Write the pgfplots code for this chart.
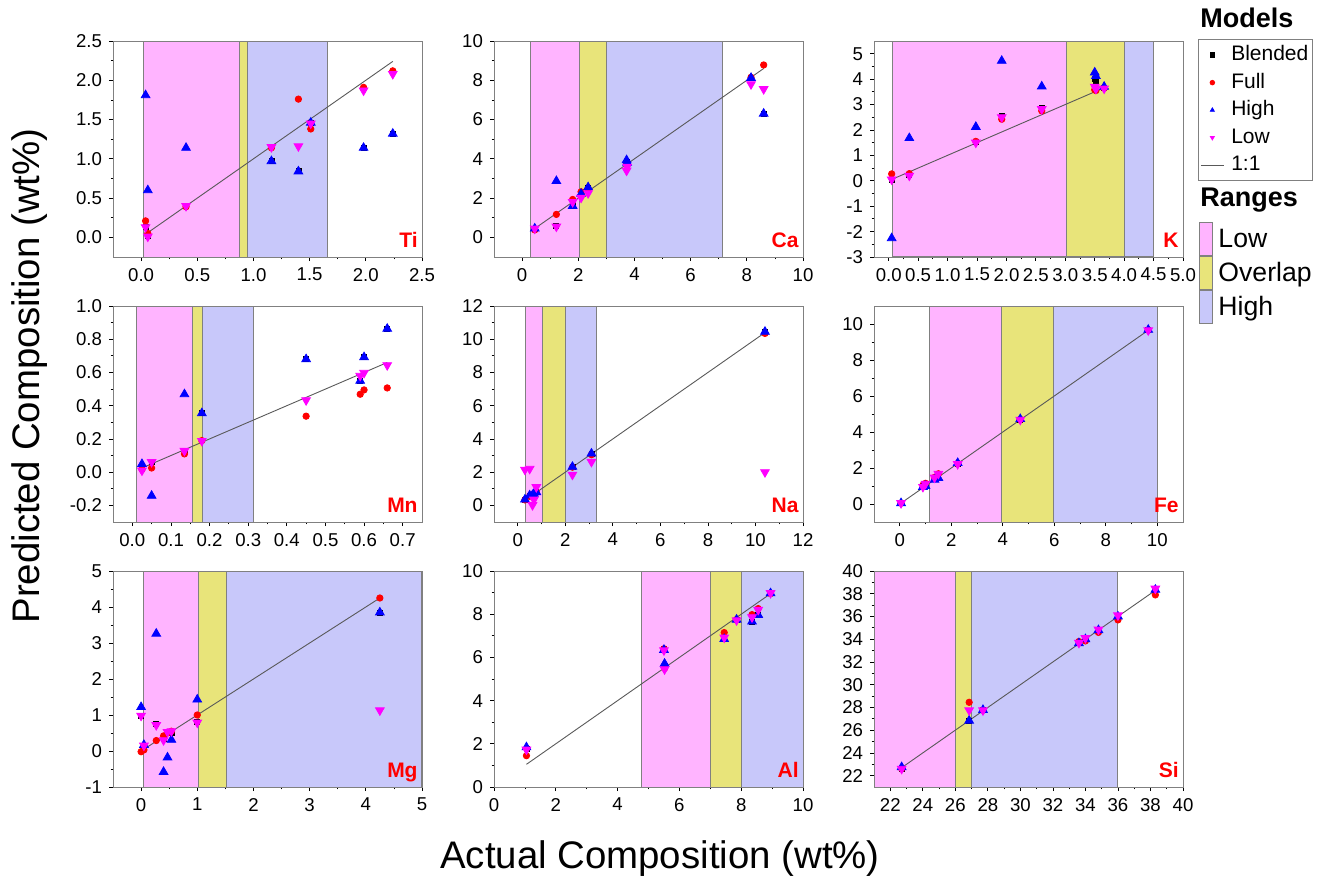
\documentclass[border=0pt]{standalone}
\usepackage{pgfplots}
\usepackage{pgfplotstable}
\pgfplotsset{compat=1.18}
\usepackage{fontspec}
\setmainfont{Liberation Sans}
\definecolor{lowc}{RGB}{255,180,255}
\definecolor{ovc}{RGB}{232,228,122}
\definecolor{highc}{RGB}{200,200,250}
\definecolor{magc}{RGB}{255,0,255}
\definecolor{bandgray}{RGB}{128,128,128}

\pgfplotstableread{
x b f h l
0.04 0.13 0.21 1.81 0.13
0.06 0.02 0.05 0.60 0.01
0.40 0.40 0.39 1.14 0.40
1.16 0.97 1.14 0.97 1.15
1.40 0.84 1.76 0.84 1.16
1.51 1.46 1.38 1.46 1.45
1.98 1.14 1.91 1.14 1.87
2.24 1.32 2.12 1.32 2.08
}\Ti
\pgfplotstableread{
x b f h l
0.45 0.45 0.38 0.45 0.45
1.22 0.58 1.17 2.87 0.55
1.80 1.70 1.93 1.60 1.80
2.10 2.20 2.32 2.22 2.02
2.35 2.50 2.45 2.55 2.25
3.72 3.85 3.80 3.93 3.40
3.74 3.75 3.70 3.80 3.60
8.15 8.10 8.15 8.12 7.80
8.60 6.30 8.78 6.30 7.55
}\Ca
\pgfplotstableread{
x b f h l
0.05 0.05 0.27 -2.26 0.05
0.35 0.22 0.28 1.68 0.20
1.48 1.52 1.55 2.12 1.50
1.92 2.55 2.42 4.72 2.50
2.60 2.86 2.75 3.71 2.82
3.50 4.00 3.58 4.26 3.70
3.52 3.90 3.55 4.12 3.62
3.66 3.65 3.65 3.70 3.63
}\K
\pgfplotstableread{
x b f h l
0.025 0.020 0.017 0.049 0.010
0.050 0.060 0.025 -0.142 0.061
0.135 0.130 0.110 0.469 0.128
0.180 0.355 0.190 0.355 0.188
0.450 0.680 0.337 0.680 0.433
0.590 0.550 0.469 0.550 0.580
0.600 0.692 0.495 0.692 0.598
0.660 0.863 0.507 0.863 0.644
}\Mn
\pgfplotstableread{
x b f h l
0.30 0.35 0.33 0.35 2.15
0.50 0.55 0.55 0.60 2.20
0.62 0.60 0.60 0.62 0.02
0.68 0.65 0.65 0.70 0.35
0.78 0.80 0.80 0.80 1.10
2.30 2.30 2.30 2.32 1.85
3.10 3.10 3.05 3.12 2.62
10.40 10.45 10.35 10.45 2.00
}\Na
\pgfplotstableread{
x b f h l
0.05 0.05 0.05 0.05 0.05
0.90 1.00 1.05 0.95 0.95
1.00 1.10 1.15 1.00 1.12
1.35 1.45 1.48 1.35 1.47
1.50 1.62 1.68 1.45 1.68
2.25 2.25 2.25 2.28 2.22
4.68 4.70 4.70 4.72 4.68
9.65 9.66 9.66 9.68 9.65
}\Fe
\pgfplotstableread{
x b f h l
0.00 0.98 -0.02 1.22 0.98
0.05 0.12 0.03 0.17 0.15
0.27 0.75 0.29 3.26 0.72
0.40 0.35 0.42 -0.58 0.30
0.47 0.52 0.50 -0.18 0.53
0.54 0.50 0.55 0.31 0.55
1.00 0.80 1.00 1.43 0.79
4.25 3.85 4.25 3.85 1.13
}\Mg
\pgfplotstableread{
x b f h l
1.05 1.75 1.45 1.84 1.73
5.50 6.38 6.40 6.35 6.33
5.52 5.60 5.50 5.71 5.45
7.45 6.90 7.15 6.85 6.92
7.85 7.75 7.75 7.75 7.72
8.35 7.65 7.98 7.66 7.86
8.55 7.95 8.26 7.97 8.20
8.95 8.97 8.95 8.97 8.98
}\Al
\pgfplotstableread{
x b f h l
22.70 22.62 22.62 22.75 22.60
26.85 26.85 28.45 26.84 27.75
27.70 27.75 27.75 27.78 27.75
33.60 33.70 33.80 33.65 33.68
34.00 34.05 33.85 34.00 34.10
34.80 34.80 34.60 34.80 34.85
36.00 36.05 35.70 36.00 36.10
38.30 38.35 37.90 38.35 38.45
}\Si

\pgfplotsset{
  panel/.style={
    scale only axis, width=154.5pt, height=108pt,
    anchor=north west,
    axis line style={bandgray},
    axis on top,
    tick align=outside, tick pos=left,
    major tick length=2pt, minor tick length=1.2pt,
    every tick/.style={black, line width=0.4pt},
    minor tick num=1,
    ticklabel style={font=\fontsize{9.3}{10.5}\selectfont},
    /pgf/number format/assume math mode=true,
  },
  dec1/.style={/pgf/number format/.cd, fixed, fixed zerofill, precision=1},
  blend/.style={only marks, mark=square*, mark size=1.25pt, color=black},
  full/.style={only marks, mark=*, mark size=1.6pt, color=red},
  highm/.style={only marks, mark=triangle*, mark size=2.5pt, color=blue},
  lowm/.style={only marks, mark=triangle*, mark size=2.5pt, color=magc, mark options={rotate=180}},
  oneone/.style={no marks, line width=0.45pt, color=black!65},
  swatch/.style={legend image code/.code={\draw[##1] (0pt,-8.25pt) rectangle (6.5pt,8.25pt);}},
}
\newcommand{\bands}[6]{%
  \addplot[fill=lowc, draw=bandgray, line width=0.5pt, forget plot] coordinates {(#3,#1) (#4,#1) (#4,#2) (#3,#2)} -- cycle;
  \addplot[fill=ovc, draw=bandgray, line width=0.5pt, forget plot] coordinates {(#4,#1) (#5,#1) (#5,#2) (#4,#2)} -- cycle;
  \addplot[fill=highc, draw=bandgray, line width=0.5pt, forget plot] coordinates {(#5,#1) (#6,#1) (#6,#2) (#5,#2)} -- cycle;
}
\newcommand{\pts}[1]{%
  \addplot[blend, forget plot] table[x=x,y=b] {#1};
  \addplot[full, forget plot] table[x=x,y=f] {#1};
  \addplot[highm, forget plot] table[x=x,y=h] {#1};
  \addplot[lowm, forget plot] table[x=x,y=l] {#1};
}
\newcommand{\elem}[1]{\node[anchor=base east, inner sep=0pt, text=red, font=\fontsize{10.5}{12}\selectfont\bfseries] at (rel axis cs:0.987,0.042) {#1};}

\begin{document}
\begin{tikzpicture}
\path[use as bounding box] (0pt,0pt) rectangle (666.5pt,-442pt);

% ---------- Ti
\begin{axis}[panel, at={(56.5pt,-20.5pt)},
  xmin=-0.25, xmax=2.5, ymin=-0.25, ymax=2.5,
  xtick={0,0.5,...,2.5}, ytick={0,0.5,...,2.5},
  xticklabel style={dec1}, yticklabel style={dec1}]
\bands{-0.25}{2.5}{0.02}{0.88}{0.95}{1.66}
\addplot[oneone, forget plot] coordinates {(0.05,0.05) (2.24,2.24)};
\pts{\Ti}
\elem{Ti}
\end{axis}

% ---------- Ca
\begin{axis}[panel, at={(247pt,-20.5pt)},
  xmin=-1, xmax=10, ymin=-1, ymax=10,
  xtick={0,2,...,10}, ytick={0,2,...,10}]
\bands{-1}{10}{0.3}{2.05}{3.02}{7.12}
\addplot[oneone, forget plot] coordinates {(0.42,0.42) (8.6,8.6)};
\pts{\Ca}
\elem{Ca}
\end{axis}

% ---------- K
\begin{axis}[panel, at={(437pt,-20.5pt)},
  xmin=-0.25, xmax=5, ymin=-3, ymax=5.5,
  xtick={0,0.5,...,5}, ytick={-3,-2,...,5},
  xticklabel style={dec1},
  legend style={at={(1.0485,1.0093)}, anchor=north west, draw=bandgray, fill=white,
    inner sep=1pt, row sep=0pt,
    font=\fontsize{10.5}{12}\selectfont,
    nodes={inner ysep=0pt, inner xsep=1pt, text height=9.6pt, text depth=4.15pt},
    /tikz/every odd column/.append style={column sep=2.5pt}},
  legend cell align=left,
  legend image code/.code={\draw[mark repeat=2,mark phase=2,#1] plot coordinates {(0pt,0pt) (5.75pt,0pt) (11.5pt,0pt)};},
  legend image post style={mark size=1.15pt}]
\bands{-3}{5.5}{0.06}{3.02}{4.0}{4.5}
\addplot[oneone, forget plot] coordinates {(0.05,0.05) (3.66,3.66)};
\addplot[blend] table[x=x,y=b] {\K}; \addlegendentry{Blended}
\addplot[full] table[x=x,y=f] {\K}; \addlegendentry{Full}
\addplot[highm] table[x=x,y=h] {\K}; \addlegendentry{High}
\addplot[lowm] table[x=x,y=l] {\K}; \addlegendentry{Low}
\addlegendimage{oneone}\addlegendentry{1:1}
\elem{K}
\end{axis}

% ---------- Mn
\begin{axis}[panel, at={(56.5pt,-153pt)},
  xmin=-0.05, xmax=0.75, ymin=-0.3, ymax=1.0,
  xtick={0,0.1,...,0.71}, ytick={-0.2,0,0.2,0.4,0.6,0.8,1.0},
  xticklabel style={dec1}, yticklabel style={dec1}]
\bands{-0.3}{1.0}{0.01}{0.155}{0.181}{0.313}
\addplot[oneone, forget plot] coordinates {(0.02,0.02) (0.66,0.66)};
\pts{\Mn}
\elem{Mn}
\end{axis}

% ---------- Na
\begin{axis}[panel, at={(247pt,-153pt)},
  xmin=-1, xmax=12, ymin=-1, ymax=12,
  xtick={0,2,...,12}, ytick={0,2,...,12}]
\bands{-1}{12}{0.32}{1.03}{2.02}{3.3}
\addplot[oneone, forget plot] coordinates {(0.3,0.3) (10.4,10.4)};
\pts{\Na}
\elem{Na}
\end{axis}

% ---------- Fe (with Ranges legend)
\begin{axis}[panel, at={(437pt,-153pt)},
  xmin=-1, xmax=11, ymin=-1, ymax=11,
  xtick={0,2,...,10}, ytick={0,2,...,10},
  legend style={at={(1.052,1.389)}, anchor=north west, draw=none, fill=none,
    inner sep=0pt, row sep=0pt,
    font=\fontsize{13.3}{15}\selectfont,
    nodes={inner sep=0pt},
    /tikz/every odd column/.append style={column sep=2.5pt}},
  legend cell align=left]
\addplot[fill=lowc, draw=bandgray, line width=0.5pt, swatch] coordinates {(1.17,-1) (3.95,-1) (3.95,11) (1.17,11)} -- cycle;
\addplot[fill=ovc, draw=bandgray, line width=0.5pt, swatch] coordinates {(3.95,-1) (5.97,-1) (5.97,11) (3.95,11)} -- cycle;
\addplot[fill=highc, draw=bandgray, line width=0.5pt, swatch] coordinates {(5.97,-1) (10.02,-1) (10.02,11) (5.97,11)} -- cycle;
\legend{Low,Overlap,High}
\addplot[oneone, forget plot] coordinates {(0.05,0.05) (9.65,9.65)};
\pts{\Fe}
\elem{Fe}
\end{axis}

% ---------- Mg
\begin{axis}[panel, at={(56.5pt,-285.5pt)},
  xmin=-0.5, xmax=5, ymin=-1, ymax=5,
  xtick={0,1,...,5}, ytick={-1,0,...,5}]
\bands{-1}{5}{0.05}{1.02}{1.52}{5}
\addplot[oneone, forget plot] coordinates {(0,0) (4.25,4.25)};
\pts{\Mg}
\elem{Mg}
\end{axis}

% ---------- Al
\begin{axis}[panel, at={(247pt,-285.5pt)},
  xmin=0, xmax=10, ymin=0, ymax=10,
  xtick={0,2,...,10}, ytick={0,2,...,10}]
\bands{0}{10}{4.77}{7.0}{8.0}{10}
\addplot[oneone, forget plot] coordinates {(1.05,1.05) (8.9,8.9)};
\pts{\Al}
\elem{Al}
\end{axis}

% ---------- Si
\begin{axis}[panel, at={(437pt,-285.5pt)},
  xmin=21, xmax=40, ymin=21, ymax=40,
  xtick={22,24,...,40}, ytick={22,24,...,40}]
\bands{21}{40}{21}{26}{27}{36}
\addplot[oneone, forget plot] coordinates {(22.7,22.7) (38.3,38.3)};
\pts{\Si}
\elem{Si}
\end{axis}

% ---------- titles
\node[rotate=90, font=\fontsize{19.2}{22}\selectfont, inner sep=0pt] at (15pt,-188pt) {Predicted Composition (wt\%)};
\node[font=\fontsize{19.2}{22}\selectfont, inner sep=0pt] at (330pt,-429.5pt) {Actual Composition (wt\%)};
\node[anchor=west, inner sep=0pt, font=\fontsize{13.5}{15}\selectfont\bfseries] at (600pt,-9pt) {Models};
\node[anchor=west, inner sep=0pt, font=\fontsize{13.5}{15}\selectfont\bfseries] at (600pt,-100pt) {Ranges};
\end{tikzpicture}
\end{document}
